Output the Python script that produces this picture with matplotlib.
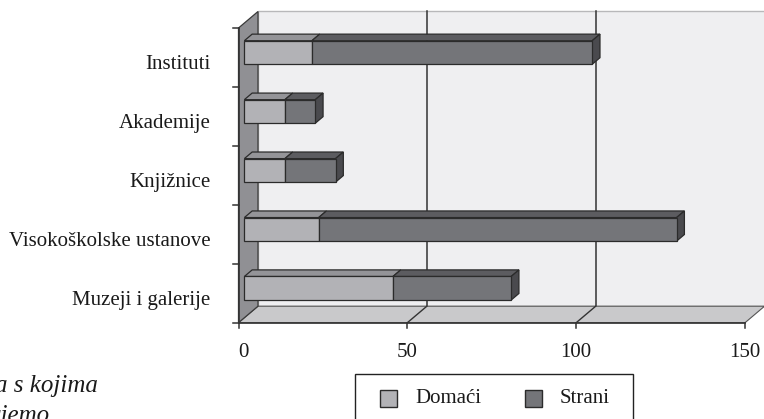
import matplotlib
matplotlib.use("Agg")
import matplotlib.pyplot as plt
from matplotlib.patches import Polygon, Rectangle

# Data (top-to-bottom order as listed on the chart)
categories = ["Instituti", "Akademije", "Knjižnice",
              "Visokoškolske ustanove", "Muzeji i galerije"]
domaci = [20, 12, 12, 22, 44]
strani = [83, 9, 15, 106, 35]
series_names = ["Domaći", "Strani"]
x_ticks = [0, 50, 100, 150]
x_max = 150

W, H = 764, 419
fig = plt.figure(figsize=(W / 100, H / 100), dpi=100)
ax = fig.add_axes([0, 0, 1, 1])
ax.set_axis_off()

# pixel geometry of the front plane
px_per_unit = 3.377
x0_px = 238.5
cat_px = 58.94
y0_px = 322.7
n = len(categories)
ax.set_xlim(-x0_px / px_per_unit, (W - x0_px) / px_per_unit)
ax.set_ylim((y0_px - H) / cat_px, y0_px / cat_px)

# depth offset of the back plane (data units)
DX = 19.5 / px_per_unit
DY = 16.5 / cat_px


def proj(x, y, d):
    return (x + d * DX, y + d * DY)


FONT = "Liberation Serif"
EDGE = "#2b2b2b"
c_dom = {"front": "#b2b2b6", "top": "#949498", "side": "#7a7a7e"}
c_str = {"front": "#747579", "top": "#5c5c60", "side": "#4a4a4e"}

# back wall
wall = Polygon([proj(0, 0, 1), proj(x_max, 0, 1), proj(x_max, n, 1), proj(0, n, 1)],
               closed=True, facecolor="#efeff1", edgecolor="#b8b8ba", lw=1.0, zorder=1)
ax.add_patch(wall)
# floor
floor = Polygon([proj(0, 0, 0), proj(x_max, 0, 0), proj(x_max, 0, 1), proj(0, 0, 1)],
                closed=True, facecolor="#c9c9cb", edgecolor="#555555", lw=0.8, zorder=2)
ax.add_patch(floor)
# side wall
side = Polygon([proj(0, 0, 0), proj(0, 0, 1), proj(0, n, 1), proj(0, n, 0)],
               closed=True, facecolor="#909094", edgecolor="#3a3a3a", lw=0.9, zorder=2)
ax.add_patch(side)

# gridlines on wall and floor
for t in x_ticks[1:-1]:
    xa, ya = proj(t, 0, 1)
    xb, yb = proj(t, n, 1)
    ax.plot([xa, xb], [ya, yb], color="#333333", lw=1.1, zorder=1.5)
    xf, yf = proj(t, 0, 0)
    ax.plot([xf, xa], [yf, ya], color="#333333", lw=1.0, zorder=2.5)

# axis lines and ticks
ax.plot([0, x_max], [0, 0], color="#333333", lw=1.2, zorder=3)
ax.plot([0, 0], [0, n], color="#333333", lw=1.2, zorder=3)
tick_x = 5 / cat_px
tick_y = 6 / px_per_unit
for t in x_ticks:
    ax.plot([t, t], [0, -tick_x], color="#333333", lw=1.1, zorder=3)
    ax.text(t if t else 0, -29.5 / cat_px, str(t), ha="center" if t else "left",
            va="center", fontsize=15, family=FONT, color="#1a1a1a")
for k in range(n + 1):
    ax.plot([0, -tick_y], [k, k], color="#333333", lw=1.1, zorder=3)

# bars
h = 0.2
d1, d2 = 0.3, 0.7
for k, name in enumerate(categories):
    c = n - 1 - k + 0.5
    segs = [(0, domaci[k], c_dom), (domaci[k], domaci[k] + strani[k], c_str)]
    for j, (a, b, col) in enumerate(segs):
        front = Polygon([proj(a, c - h, d1), proj(b, c - h, d1),
                         proj(b, c + h, d1), proj(a, c + h, d1)],
                        closed=True, facecolor=col["front"], edgecolor=EDGE, lw=0.9, zorder=5)
        top = Polygon([proj(a, c + h, d1), proj(b, c + h, d1),
                       proj(b, c + h, d2), proj(a, c + h, d2)],
                      closed=True, facecolor=col["top"], edgecolor=EDGE, lw=0.9, zorder=4)
        ax.add_patch(top)
        ax.add_patch(front)
        if j == len(segs) - 1:
            right = Polygon([proj(b, c - h, d1), proj(b, c - h, d2),
                             proj(b, c + h, d2), proj(b, c + h, d1)],
                            closed=True, facecolor=col["side"], edgecolor=EDGE, lw=0.9, zorder=4)
            ax.add_patch(right)
    # category label
    ax.text(-27.8 / px_per_unit, c - 11.3 / cat_px, name, ha="right", va="baseline",
            fontsize=15, family=FONT, color="#1a1a1a")


# legend drawn in pixel space
def fx(px):
    return px / W


def fy(py):
    return 1 - py / H


tf = fig.transFigure
fig.add_artist(Rectangle((fx(355), fy(423)), fx(633) - fx(355), fy(374) - fy(423),
                         transform=tf, facecolor="white", edgecolor="#222222", lw=1.0))
for (sx, tx), name, col in zip([(380, 415), (525, 560)], series_names, [c_dom, c_str]):
    fig.add_artist(Rectangle((fx(sx), fy(407)), fx(sx + 17) - fx(sx), fy(390) - fy(407),
                             transform=tf, facecolor=col["front"], edgecolor=EDGE, lw=1.0))
    fig.text(fx(tx), fy(398.5), name, ha="left", va="center", fontsize=15,
             family=FONT, color="#1a1a1a")

# caption fragment at the lower left
fig.text(fx(98), fy(392), "a s kojima", ha="right", va="baseline", fontsize=18,
         family=FONT, style="italic", color="#1a1a1a")
fig.text(fx(50), fy(422), "ujemo", ha="right", va="baseline", fontsize=18,
         family=FONT, style="italic", color="#1a1a1a")

fig.savefig("out.png", dpi=100)
